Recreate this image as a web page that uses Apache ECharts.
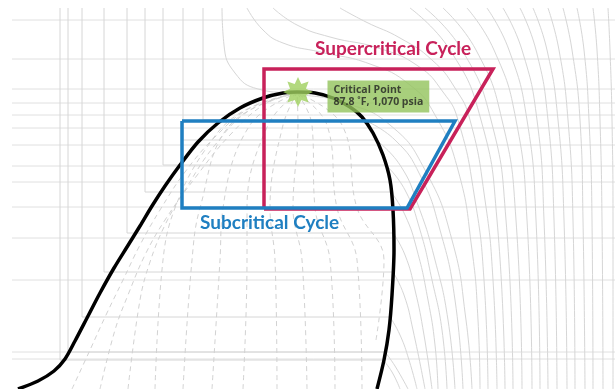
<!DOCTYPE html>
<html>
<head>
<meta charset="utf-8">
<script src="https://cdn.jsdelivr.net/npm/echarts@6/dist/echarts.min.js"></script>
<style>
html,body{margin:0;padding:0;background:#fff;}
#chart{width:615px;height:389px;}
</style>
</head>
<body>
<div id="chart"></div>
<script>
// pressure-enthalpy sketch, coordinates (x right, y down)
var isobarY = [20, 59, 89, 103, 115, 128, 145, 166, 182, 207, 238, 280, 352, 359];

// subcritical isotherms: vertical in the liquid, flat across the dome
var subIsoLiquid = [
    [[60,8],[60,360],[383,360]],
    [[68,8],[68,352],[385,352]],
    [[82,8],[82,317],[390,317]],
    [[104,8],[104,272],[393,272]],
    [[127,8],[127,233],[393,233]],
    [[145,8],[145,192],[391,192]],
    [[163,8],[163,165],[386,165]],
    [[183,8],[183,140],[376,140]],
    [[203,8],[203,120],[364,120]]
];
// ...and their vapour part
var subIsoVapor = [
    [[383,360],[392,372],[400,389]],
    [[385,352],[395,366],[408,389]],
    [[390,317],[400,335],[409,360],[417,389]],
    [[393,272],[404,295],[413,330],[425,389]],
    [[393,233],[405,255],[415,290],[424,335],[432,389]],
    [[391,192],[405,215],[417,250],[428,300],[435,345],[438,389]],
    [[386,165],[405,190],[420,230],[432,280],[442,330],[447,389]],
    [[376,140],[400,165],[418,205],[435,260],[448,320],[455,389]],
    [[364,120],[395,140],[420,175],[440,230],[455,300],[463,389]]
];
// critical and supercritical isotherms
var superIso = [
    [[222,8],[224,45],[235,73],[258,89],[297,94],[345,103],[390,125],[425,170],[452,240],[466,320],[472,389]],
    [[247,8],[263,30],[283,43],[320,52],[370,64],[410,85],[435,115],[458,170],[472,250],[478,320],[480,389]],
    [[273,8],[297,25],[330,37],[378,48],[418,66],[443,92],[458,120],[475,200],[484,280],[488,389]],
    [[340,8],[366,22],[400,38],[432,60],[455,88],[470,120],[485,200],[493,280],[497,389]]
];
var topIso = [
    [[410,8],[450,50],[481,120],[497,220],[505,389]],
    [[425,8],[462,50],[491,120],[506,220],[513,389]],
    [[443,8],[476,50],[502,120],[516,220],[522,389]],
    [[467,8],[494,50],[516,120],[527,220],[532,389]],
    [[487,8],[509,50],[527,120],[536,220],[540,389]],
    [[503,8],[522,50],[537,120],[544,220],[548,389]],
    [[520,8],[536,50],[548,120],[554,220],[557,389]],
    [[533,8],[547,50],[558,120],[564,220],[567,389]],
    [[548,8],[559,50],[568,120],[573,220],[575,389]],
    [[563,8],[572,50],[580,120],[583,220],[585,389]],
    [[577,8],[584,50],[589,120],[592,220],[593,389]],
    [[593,8],[597,50],[600,120],[602,220],[603,389]],
    [[608,8],[610,50],[612,120],[613,220],[613,389]]
];
// constant quality lines inside the dome
var qualityLines = [
    [[72,389],[90,350],[106,315],[123,280],[140,245],[160,210],[185,172],[215,137],[250,108],[297,93]],
    [[100,389],[115,330],[128,295],[145,255],[165,220],[195,178],[230,135],[265,104],[297,93]],
    [[128,389],[140,300],[150,262],[165,225],[185,190],[215,145],[250,110],[297,93]],
    [[155,389],[163,260],[175,208],[205,150],[240,113],[297,93]],
    [[183,389],[192,260],[200,208],[230,125],[297,93]],
    [[212,389],[220,260],[223,208],[250,125],[297,93]],
    [[243,389],[247,260],[247,208],[268,125],[297,93]],
    [[277,389],[275,260],[270,208],[283,125],[297,93]],
    [[307,389],[302,260],[293,208],[298,125],[297,93]],
    [[335,389],[330,260],[315,208],[312,125],[297,93]],
    [[362,389],[357,260],[337,208],[327,125],[297,93]],
    [[376,340],[384,260],[357,208],[342,125],[297,93]]
];
var dome = [[18,389],[38,381],[54,371],[65,359],[75,341],[87,318],[100,293],[114,268],[127,247],
    [140,226],[152,206],[165,186],[180,165],[198,142],[218,123],[240,108],[263,98],[283,93],[297,92],
    [315,93],[333,98],[350,107],[362,117],[373,133],[383,155],[390,180],[393,210],[394,250],
    [392,295],[389,330],[384,360],[377,389]];
var superCycle = [[264,209],[264,69],[493,69],[410,209],[264,209]];
var subCycle = [[182,121],[455,121],[407,208],[182,208],[182,121]];
var criticalPoint = [298, 92];
var criticalLabelAt = [323, 76];

var chart = echarts.init(document.getElementById("chart"));
var grey = "#d6d6d6";
var series = [];
function addLine(pts, color, width, smooth, dashed) {
    series.push({
        type: "line",
        data: pts,
        smooth: smooth,
        symbol: "none",
        silent: true,
        lineStyle: {color: color, width: width, type: dashed ? [5, 4] : "solid", cap: "butt", join: "miter"},
        z: 2
    });
}
isobarY.forEach(function (y) { addLine([[12, y], [615, y]], "#e0e0e0", 1, false); });
subIsoLiquid.forEach(function (p) { addLine(p, grey, 1, false); });
subIsoVapor.forEach(function (p) { addLine(p, grey, 1, 0.5); });
superIso.forEach(function (p) { addLine(p, grey, 1, 0.5); });
topIso.forEach(function (p) { addLine(p, grey, 1, 0.5); });
qualityLines.forEach(function (p) { addLine(p, "#d2d2d2", 1, 0.4, true); });
addLine(dome, "#000", 3.5, 0.3);
addLine(superCycle, "#c8215a", 3.5, false);
addLine(subCycle, "#1f7fc1", 3.5, false);

series.push({
    type: "scatter",
    data: [criticalPoint],
    symbol: "path://M0,-10L2.2,-5.3L7.07,-7.07L5.3,-2.2L10,0L5.3,2.2L7.07,7.07L2.2,5.3L0,10L-2.2,5.3L-7.07,7.07L-5.3,2.2L-10,0L-5.3,-2.2L-7.07,-7.07L-2.2,-5.3Z",
    symbolSize: 30,
    itemStyle: {color: "#9fd05e"},
    silent: true,
    z: 5
});
series.push({
    type: "scatter",
    data: [criticalLabelAt],
    symbolSize: 1,
    itemStyle: {color: "rgba(0,0,0,0)"},
    silent: true,
    z: 6,
    label: {
        show: true,
        position: "insideTopLeft",
        formatter: "Critical Point\n87.8 ˚F, 1,070 psia",
        fontFamily: "Open Sans",
        fontWeight: "bold",
        fontSize: 10.5,
        lineHeight: 12,
        color: "#222",
        backgroundColor: "#92c35b",
        padding: [4, 6, 4, 6]
    }
});

option = {
    animation: false,
    backgroundColor: "#fff",
    grid: {left: 0, right: 0, top: 0, bottom: 0},
    xAxis: {type: "value", min: 0, max: 615, show: false},
    yAxis: {type: "value", min: 0, max: 389, inverse: true, show: false},
    graphic: [
        {type: "text", left: 315, top: 39, z: 10,
            style: {text: "Supercritical Cycle", fill: "#c8215a", fontFamily: "Lato", fontWeight: "bold", fontSize: 19}},
        {type: "text", left: 200, top: 213, z: 10,
            style: {text: "Subcritical Cycle", fill: "#1f7fc1", fontFamily: "Lato", fontWeight: "bold", fontSize: 19}}
    ],
    series: series
};
chart.setOption(option);
</script>
</body>
</html>
